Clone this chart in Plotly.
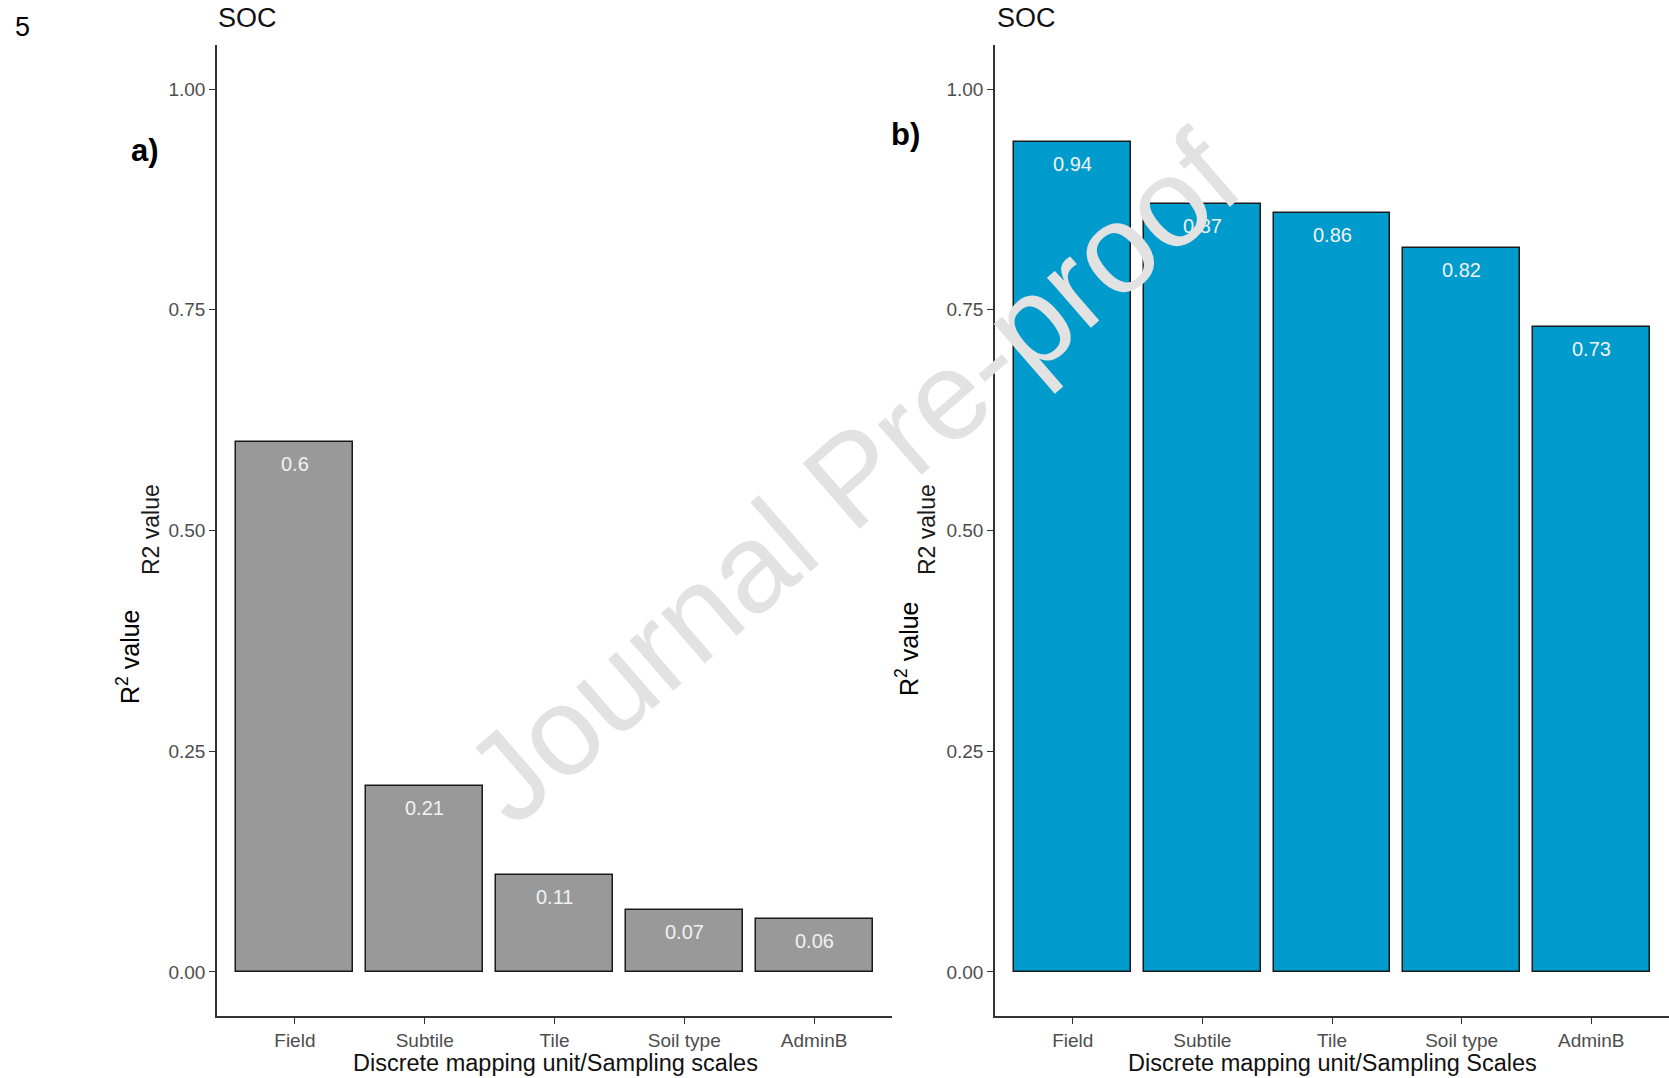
import plotly.graph_objects as go

# Sampling scales and R² of SOC predictions for each panel
scales = ["Field", "Subtile", "Tile", "Soil type", "AdminB"]
r2_a = [0.60, 0.21, 0.11, 0.07, 0.06]
r2_b = [0.94, 0.87, 0.86, 0.82, 0.73]
labels_a = ["0.6", "0.21", "0.11", "0.07", "0.06"]
labels_b = ["0.94", "0.87", "0.86", "0.82", "0.73"]
y_ticks = [0.0, 0.25, 0.5, 0.75, 1.0]

W, H = 1669, 1078
FONT = "Liberation Sans, Arial, sans-serif"
GRAY_FILL = "#999999"
BLUE_FILL = "#009BCD"


def px_x(p):
    return p / W


def px_y(p):
    return 1 - p / H


fig = go.Figure()

fig.add_trace(go.Bar(x=scales, y=r2_a, width=0.9, marker=dict(color=GRAY_FILL, line=dict(color="#1a1a1a", width=1.5)),
                     xaxis="x", yaxis="y", showlegend=False, hoverinfo="x+y"))
fig.add_trace(go.Bar(x=scales, y=r2_b, width=0.9, marker=dict(color=BLUE_FILL, line=dict(color="#1a1a1a", width=1.5)),
                     xaxis="x2", yaxis="y2", showlegend=False, hoverinfo="x+y"))

axis_common = dict(showline=True, linecolor="#333333", linewidth=1.5, ticks="outside", ticklen=6,
                   tickwidth=1.3, tickcolor="#333333", showgrid=False, zeroline=False,
                   tickfont=dict(family=FONT, size=19, color="#4D4D4D"))

y_dom = [px_y(1016), px_y(45)]
fig.update_layout(
    width=W, height=H, margin=dict(l=0, r=0, t=0, b=0),
    paper_bgcolor="white", plot_bgcolor="white", bargap=0,
    xaxis=dict(domain=[px_x(217), px_x(892)], anchor="y", type="category", range=[-0.6, 4.6], **axis_common),
    yaxis=dict(domain=y_dom, anchor="x", range=[-0.05, 1.05], tickvals=y_ticks, tickformat=".2f", **axis_common),
    xaxis2=dict(domain=[px_x(995), 1.0], anchor="y2", type="category", range=[-0.6, 4.6], **axis_common),
    yaxis2=dict(domain=y_dom, anchor="x2", range=[-0.05, 1.05], tickvals=y_ticks, tickformat=".2f", **axis_common),
)

ann = []

# value labels just inside the top of each bar
for xr, yr, vals, labs in (("x", "y", r2_a, labels_a), ("x2", "y2", r2_b, labels_b)):
    for cat, v, lab in zip(scales, vals, labs):
        ann.append(dict(x=cat, y=v, xref=xr, yref=yr, text=lab, showarrow=False, yshift=-22,
                        yanchor="middle", font=dict(family=FONT, size=20, color="#F2F2F2")))


def paper_text(x, y, text, size, color="black", angle=0, xanchor="center", yanchor="middle", family=FONT):
    ann.append(dict(x=px_x(x), y=px_y(y), xref="paper", yref="paper", text=text, showarrow=False,
                    textangle=angle, xanchor=xanchor, yanchor=yanchor,
                    font=dict(family=family, size=size, color=color)))


# page number and panel titles
paper_text(13, 27, "5", 27, xanchor="left")
paper_text(216, 18, "SOC", 27, color="#111111", xanchor="left")
paper_text(995, 18, "SOC", 27, color="#111111", xanchor="left")
paper_text(145, 151, "<b>a)</b>", 31)
paper_text(906, 134, "<b>b)</b>", 31)

# y-axis titles
paper_text(151, 530, "R2 value", 23, color="#1a1a1a", angle=-90)
paper_text(128, 657, "R<sup>2</sup> value", 25, angle=-90)
paper_text(927, 530, "R2 value", 23, color="#1a1a1a", angle=-90)
paper_text(907, 649, "R<sup>2</sup> value", 25, angle=-90)

# x-axis titles
paper_text(555, 1063, "Discrete mapping unit/Sampling scales", 23.5, color="#111111")
paper_text(1332, 1063, "Discrete mapping unit/Sampling Scales", 23.5, color="#111111")

# watermark across both panels
paper_text(852, 477, "Journal Pre-proof", 126, color="rgb(226,226,226)", angle=-41)

fig.update_layout(annotations=ann)

fig.write_html("out.html")
